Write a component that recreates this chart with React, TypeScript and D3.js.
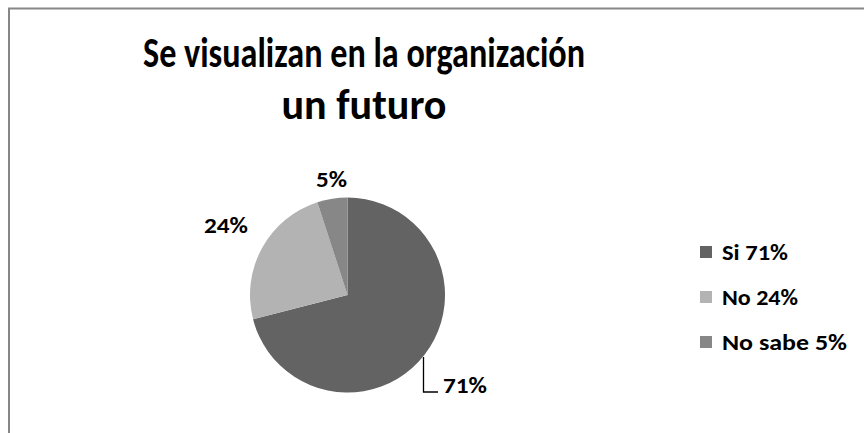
import React, { useEffect, useRef } from "react";
import * as d3 from "d3";

const categories = ["Si", "No", "No sabe"];
const values = [71, 24, 5];
const labels = ["71%", "24%", "5%"];
const legendLabels = ["Si 71%", "No 24%", "No sabe 5%"];
const colors = ["#636363", "#b3b3b3", "#878787"];
const titleLines = ["Se visualizan en la organización", "un futuro"];

export default function App() {
  const ref = useRef<SVGSVGElement | null>(null);

  useEffect(() => {
    const svg = d3.select(ref.current);
    svg.selectAll("*").remove();
    const W = 864, H = 433;
    const font = "Carlito, 'Open Sans', 'Liberation Sans', sans-serif";

    svg.append("rect").attr("x", 0).attr("y", 0).attr("width", W).attr("height", H).attr("fill", "#fff");
    svg.append("rect").attr("x", 9).attr("y", 8.5).attr("width", 880).attr("height", 460)
      .attr("fill", "none").attr("stroke", "#878787").attr("stroke-width", 2);

    // title
    const tl = [
      { t: titleLines[0], y: 67, w: 442 },
      { t: titleLines[1], y: 119, w: 165 },
    ];
    tl.forEach((l) => {
      svg.append("text").attr("x", 364).attr("y", l.y).attr("text-anchor", "middle")
        .attr("font-family", font).attr("font-weight", "bold").attr("font-size", 42)
        .attr("textLength", l.w).attr("lengthAdjust", "spacingAndGlyphs")
        .attr("fill", "#000").text(l.t);
    });

    const cx = 347.5, cy = 295, r = 97.5;
    const pie = d3.pie<number>().sort(null).value((d) => d);
    const arcs = pie(values);
    const arc = d3.arc<d3.PieArcDatum<number>>().innerRadius(0).outerRadius(r);
    const g = svg.append("g").attr("transform", `translate(${cx},${cy})`);
    g.selectAll("path").data(arcs).enter().append("path")
      .attr("d", arc as any).attr("fill", (_d, i) => colors[i]);

    // data labels
    const labelPos = [
      { x: 443, y: 393, w: 44 },
      { x: 204, y: 233, w: 44 },
      { x: 316, y: 187, w: 31 },
    ];
    labels.forEach((t, i) => {
      svg.append("text").attr("x", labelPos[i].x).attr("y", labelPos[i].y)
        .attr("font-family", font).attr("font-weight", "bold").attr("font-size", 22)
        .attr("textLength", labelPos[i].w).attr("lengthAdjust", "spacingAndGlyphs")
        .attr("fill", "#000").text(t);
    });
    // leader line for 71%
    svg.append("path")
      .attr("d", `M${423.5},${357} L${423.5},${392} L${438},${392}`)
      .attr("fill", "none").attr("stroke", "#000").attr("stroke-width", 1.3);

    // legend
    const legendW = [66, 76, 125];
    const ly = d3.scalePoint<string>().domain(categories).range([252, 342]);
    categories.forEach((c, i) => {
      const y = ly(c)!;
      svg.append("rect").attr("x", 700).attr("y", y - 6).attr("width", 12).attr("height", 12)
        .attr("fill", colors[i]);
      svg.append("text").attr("x", 722).attr("y", y + 8)
        .attr("font-family", font).attr("font-weight", "bold").attr("font-size", 22)
        .attr("textLength", legendW[i]).attr("lengthAdjust", "spacingAndGlyphs")
        .attr("fill", "#000").text(legendLabels[i]);
    });
  }, []);

  return (
    <svg ref={ref} width={864} height={433}
      style={{ position: "absolute", left: 0, top: 0, display: "block" }} />
  );
}
